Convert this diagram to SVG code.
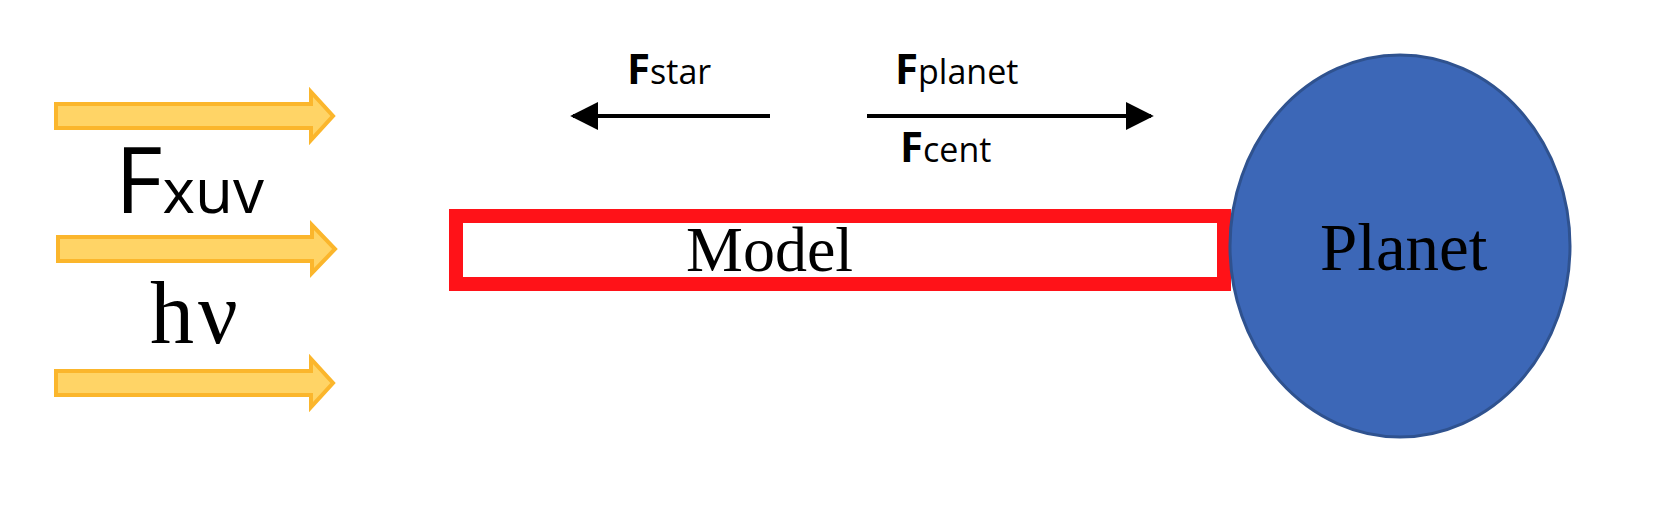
<svg xmlns="http://www.w3.org/2000/svg" width="1678" height="512" viewBox="0 0 1678 512">
<defs>
<style>
.ya{fill:#ffd466;stroke:#fbb62c;stroke-width:4;stroke-linejoin:miter}
.s{font-family:"Open Sans","DejaVu Sans",sans-serif;fill:#000}
.t{font-family:"Liberation Serif",serif;fill:#000}
.fl{stroke:#000;stroke-width:4;fill:none}
</style>
<marker id="ah" viewBox="0 0 10 10" refX="9" refY="5" markerWidth="7" markerHeight="8" markerUnits="strokeWidth" orient="auto"><path d="M0,0L10,5L0,10z" fill="#000"/></marker>
</defs>
<g id="xuv-arrows">
<path class="ya" d="M56,104H311V92L333,116L311,140V128H56z"/>
<path class="ya" d="M58,237H312V225L335,249L312,273V261H58z"/>
<path class="ya" d="M56,371H311V359L333,383L311,407V395H56z"/>
</g>
<g id="fxuv"><text class="s" x="115" y="213" font-size="92">F<tspan font-size="62">xuv</tspan></text></g>
<g id="hv"><text class="t" x="150" y="343" font-size="88" letter-spacing="4">hν</text></g>
<g id="model">
<rect x="456" y="216" width="768" height="68" fill="none" stroke="#ff1218" stroke-width="14"/>
<text class="t" x="686" y="271" font-size="64">Model</text>
</g>
<g id="planet">
<ellipse cx="1400" cy="246" rx="170" ry="191" fill="#3c67b7" stroke="#2f528f" stroke-width="3"/>
<text class="t" x="1320" y="270" font-size="67">Planet</text>
</g>
<g id="connectors">
<line class="fl" x1="770" y1="116" x2="573" y2="116" marker-end="url(#ah)"/>
<line class="fl" x1="867" y1="116" x2="1151" y2="116" marker-end="url(#ah)"/>
</g>
<g id="labels">
<text class="s" x="627" y="84" font-size="42" font-weight="bold">F<tspan font-size="34" font-weight="normal">star</tspan></text>
<text class="s" x="895" y="84" font-size="42" font-weight="bold">F<tspan font-size="34" font-weight="normal">planet</tspan></text>
<text class="s" x="900" y="162" font-size="42" font-weight="bold">F<tspan font-size="34" font-weight="normal">cent</tspan></text>
</g>
</svg>
